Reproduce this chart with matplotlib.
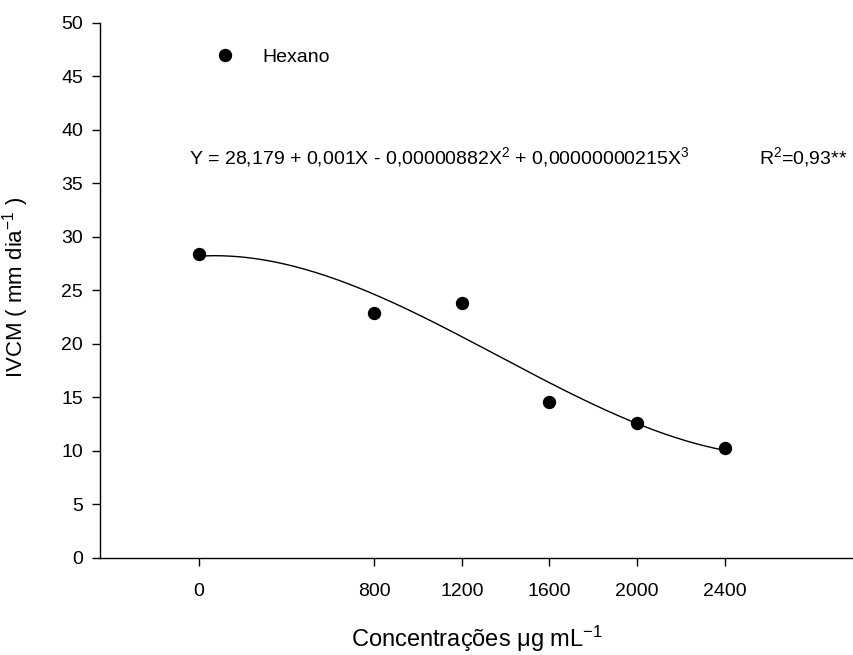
import numpy as np
import matplotlib
matplotlib.use('Agg')
import matplotlib.pyplot as plt

plt.rcParams['font.family'] = ['Liberation Sans', 'DejaVu Sans']

# Data
concentracao = [0, 800, 1200, 1600, 2000, 2400]
ivcm = [28.4, 22.9, 23.8, 14.6, 12.6, 10.25]
x_ticks = [0, 800, 1200, 1600, 2000, 2400]
y_ticks = [0, 5, 10, 15, 20, 25, 30, 35, 40, 45, 50]

equacao = ('Y = 28,179 + 0,001X - 0,00000882X$\\mathregular{^2}$'
           ' + 0,00000000215X$\\mathregular{^3}$')
r2_text = 'R$\\mathregular{^2}$=0,93**'

fig = plt.figure(figsize=(8.54, 6.55), dpi=100)
ax = fig.add_axes([0.1171, 0.1481, 0.8829, 0.8168])

# cubic regression curve fitted to the points
coef = np.polyfit(concentracao, ivcm, 3)
xs = np.linspace(min(concentracao), max(concentracao), 200)
ax.plot(xs, np.polyval(coef, xs), color='black', lw=1.0)
ax.plot(concentracao, ivcm, 'o', color='black', markersize=8.6, label='Hexano')

ax.set_xlim(-452, 2991)
ax.set_ylim(0, 50)
ax.set_xticks(x_ticks)
ax.set_yticks(y_ticks)

for side in ['top', 'right']:
    ax.spines[side].set_visible(False)
for side in ['left', 'bottom']:
    ax.spines[side].set_linewidth(1.0)

ax.tick_params(axis='both', direction='out', length=5.8, width=1.0, labelsize=14)
ax.tick_params(axis='x', pad=12)
ax.tick_params(axis='y', pad=6.5)

ax.set_xlabel('Concentrações μg mL$\\mathregular{^{-1}}$', fontsize=17, labelpad=17)
ax.set_ylabel('IVCM ( mm dia$\\mathregular{^{-1}}$ )', fontsize=16)
ax.yaxis.set_label_coords(-0.092, 0.505)

ax.text(0.118, 0.738, equacao, transform=ax.transAxes, fontsize=14, va='baseline')
ax.text(0.874, 0.738, r2_text, transform=ax.transAxes, fontsize=14, va='baseline')

ax.legend(loc='center left', bbox_to_anchor=(0.153, 0.936), frameon=False,
          fontsize=14, handlelength=1.0, handletextpad=1.4, borderpad=0,
          borderaxespad=0)

fig.savefig('out.png', dpi=100)
